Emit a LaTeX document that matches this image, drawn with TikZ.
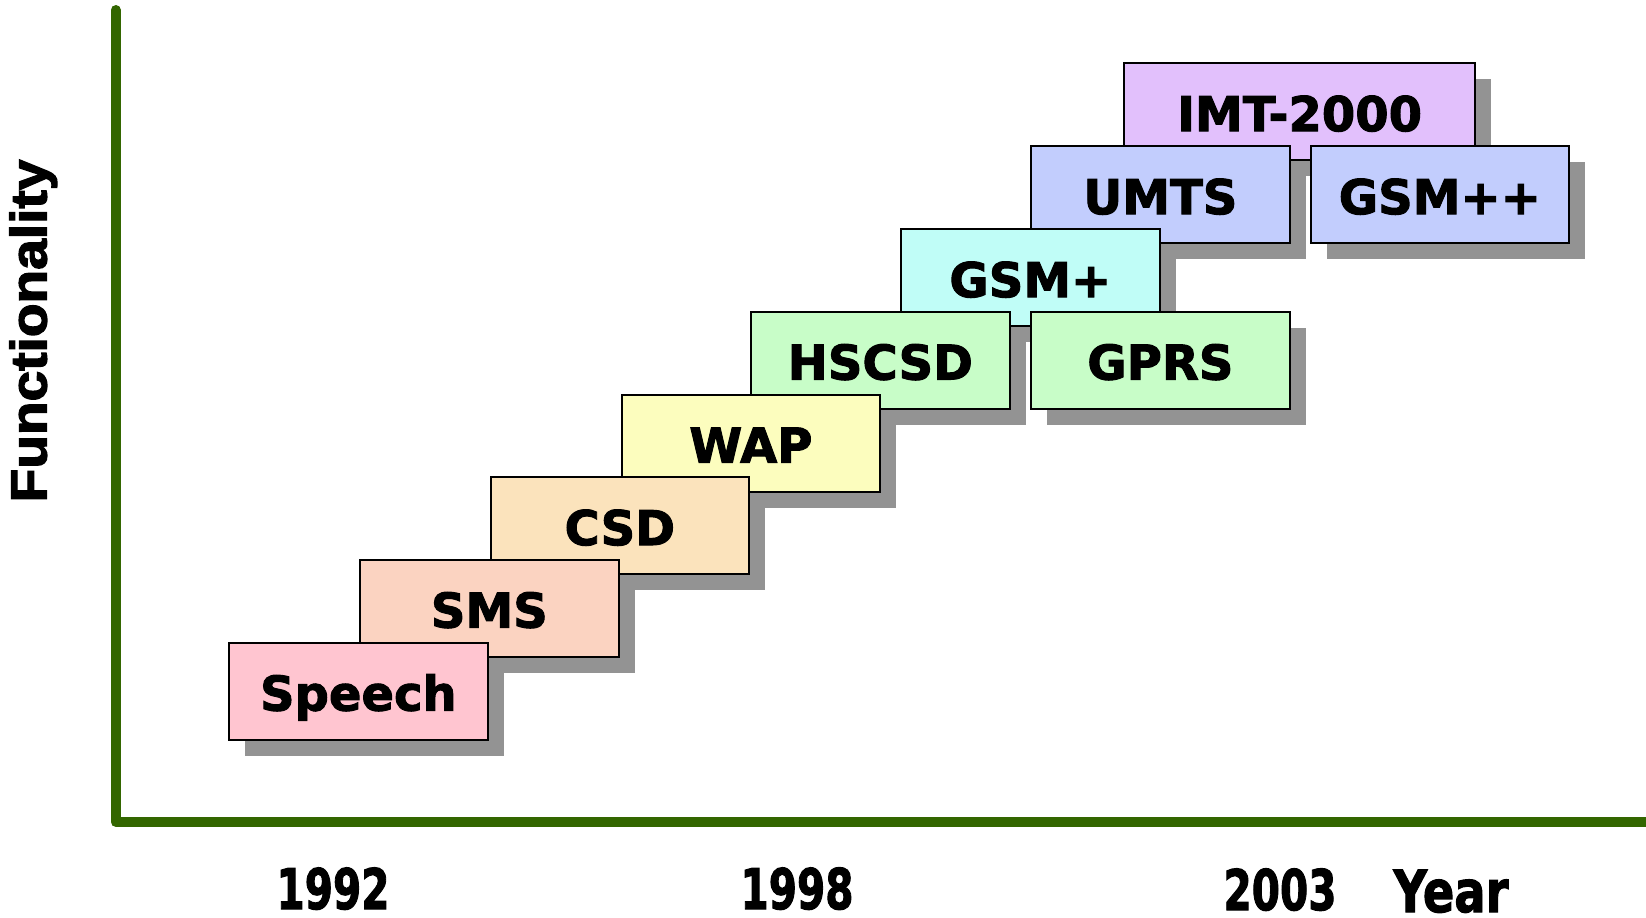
\documentclass[tikz,border=0pt]{standalone}
\usepackage{fontspec}
\setmainfont{DejaVu Sans}[BoldFeatures={FakeBold=2}]
\newfontfamily\labfont{Liberation Sans}[BoldFeatures={FakeBold=2.5}]
\usetikzlibrary{shadows}
\definecolor{axisgreen}{RGB}{51,102,0}
\definecolor{shadowgray}{RGB}{147,147,147}
\definecolor{cSpeech}{RGB}{255,197,208}
\definecolor{cSMS}{RGB}{251,211,193}
\definecolor{cCSD}{RGB}{251,227,188}
\definecolor{cWAP}{RGB}{252,253,190}
\definecolor{cGreen}{RGB}{200,253,200}
\definecolor{cCyan}{RGB}{192,253,247}
\definecolor{cBlue}{RGB}{194,205,253}
\definecolor{cLav}{RGB}{226,192,252}
\tikzset{
  techbox/.style={draw=black, line width=1.1pt, anchor=north west,
    minimum width=129.25pt, minimum height=48.5pt, inner sep=0pt,
    text height=19.5pt, text depth=0pt,
    font=\fontsize{24}{28}\selectfont\bfseries,
    drop shadow={opacity=1, fill=shadowgray, shadow xshift=8pt, shadow yshift=-8pt}},
  yearlabel/.style={anchor=base, inner sep=0pt, font=\fontsize{28}{32}\selectfont\bfseries},
  axisline/.style={draw=axisgreen, line width=5pt, line cap=round, line join=round}
}
\begin{document}
\begin{tikzpicture}[x=0.5pt, y=-0.5pt]
\useasboundingbox (0,0) rectangle (1646,917);
% axes
\coordinate (ytop) at (115.7,10);
\coordinate (orig) at (115.7,822);
\coordinate (xend) at (1660,822);
\draw[axisline] (ytop) -- (orig) -- (xend);
% boxes (top to bottom, lower ones drawn over upper)
\node[techbox, fill=cLav, minimum width=175.5pt] (imt) at (1123,62) {IMT-2000};
\node[techbox, fill=cBlue] (umts) at (1030,145) {UMTS};
\node[techbox, fill=cBlue] (gsmpp) at (1309.5,145) {GSM++};
\node[techbox, fill=cCyan] (gsmp) at (900,228) {GSM+};
\node[techbox, fill=cGreen] (hscsd) at (750,310.5) {HSCSD};
\node[techbox, fill=cGreen] (gprs) at (1030,310.5) {GPRS};
\node[techbox, fill=cWAP] (wap) at (620.5,393.5) {WAP};
\node[techbox, fill=cCSD] (csd) at (489.5,476) {CSD};
\node[techbox, fill=cSMS] (sms) at (359,558.5) {SMS};
\node[techbox, fill=cSpeech] (speech) at (228,641.5) {Speech};
% labels
\node[rotate=90, anchor=base, inner sep=0pt, font=\labfont\fontsize{25.5}{30}\selectfont\bfseries] (func) at (46.5,331) {\scalebox{1.08}[1]{Functionality}};
\node[yearlabel] (y1992) at (333,909) {\scalebox{0.725}[1]{1992}};
\node[yearlabel] (y1998) at (797,909) {\scalebox{0.725}[1]{1998}};
\node[yearlabel] (y2003) at (1280,910) {\scalebox{0.725}[1]{2003}};
\node[yearlabel, font=\fontsize{29}{33}\selectfont\bfseries] (year) at (1451,912) {\scalebox{0.8}[1]{Year}};
\end{tikzpicture}
\end{document}
